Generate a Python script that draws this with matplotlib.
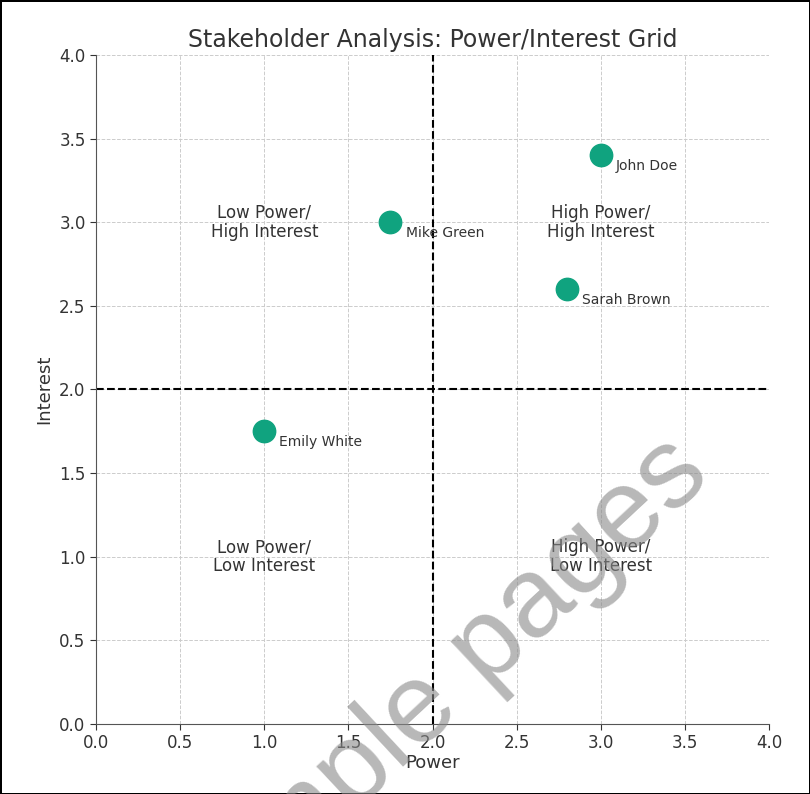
import matplotlib.pyplot as plt

# stakeholders: power (x) and interest (y)
names = ['John Doe', 'Sarah Brown', 'Mike Green', 'Emily White']
power = [3.0, 2.8, 1.75, 1.0]
interest = [3.4, 2.6, 3.0, 1.75]

quadrant_labels = ['Low Power/\nHigh Interest', 'High Power/\nHigh Interest',
                   'Low Power/\nLow Interest', 'High Power/\nLow Interest']
quadrant_x = [1.0, 3.0, 1.0, 3.0]
quadrant_y = [3.0, 3.0, 1.0, 1.0]

fig = plt.figure(figsize=(8.1, 7.94), dpi=100)
fig.patch.set_edgecolor('black')
fig.patch.set_linewidth(2)
ax = fig.add_axes([0.1185, 0.0882, 0.831, 0.8426])

ax.scatter(power, interest, s=260, color='#10a37f', zorder=3)
for n, x, y in zip(names, power, interest):
    ax.text(x + 0.09, y - 0.09, n, fontsize=10, color='#333333')

for lab, x, y in zip(quadrant_labels, quadrant_x, quadrant_y):
    ax.text(x, y, lab, fontsize=12, ha='center', va='center',
            color='#333333', linespacing=1.1)

ax.axvline(2, color='black', linestyle='--', linewidth=1.5)
ax.axhline(2, color='black', linestyle='--', linewidth=1.5)

ax.set_xlim(0, 4)
ax.set_ylim(0, 4)
ax.set_xticks([0, 0.5, 1, 1.5, 2, 2.5, 3, 3.5, 4])
ax.set_yticks([0, 0.5, 1, 1.5, 2, 2.5, 3, 3.5, 4])
ax.tick_params(labelsize=12, colors='#333333', length=4)
ax.grid(True, linestyle='--', color='#cccccc', linewidth=0.7)
ax.set_axisbelow(True)
for side in ['top', 'right']:
    ax.spines[side].set_visible(False)
for side in ['left', 'bottom']:
    ax.spines[side].set_color('#555555')

ax.set_title('Stakeholder Analysis: Power/Interest Grid', fontsize=17,
             color='#333333', pad=6)
ax.set_xlabel('Power', fontsize=13, color='#333333', labelpad=1)
ax.set_ylabel('Interest', fontsize=13, color='#333333')

# watermark
fig.text(427 / 810, 1 - 705 / 794, 'Sample pages', fontsize=82, rotation=43,
         family='Liberation Sans', ha='center', va='center',
         color='#888888', alpha=0.6, zorder=10)

fig.savefig('out.png', dpi=100)
